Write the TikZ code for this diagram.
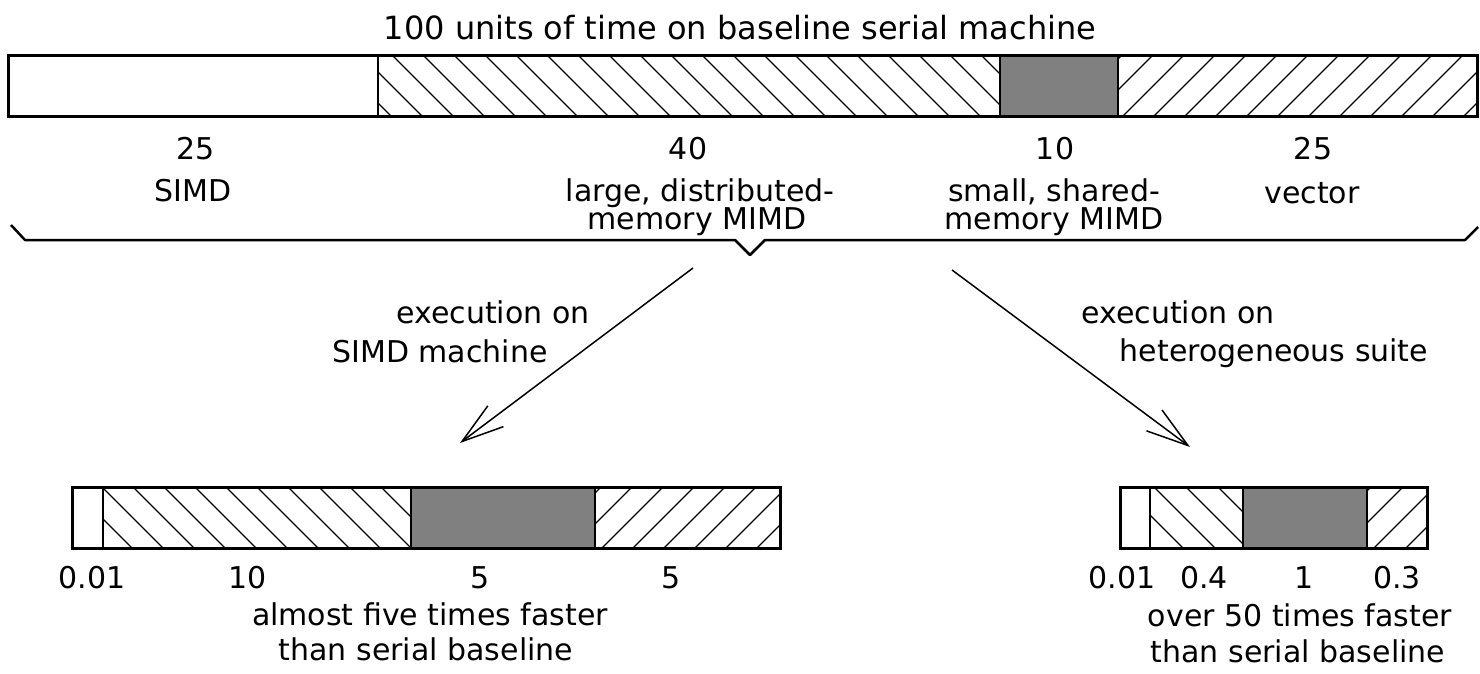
\documentclass[tikz,border=0pt]{standalone}
\usepackage{fontspec}
\setmainfont{DejaVu Sans}
\usetikzlibrary{arrows.meta}
\definecolor{blockgray}{HTML}{808080}
\begin{document}
\begin{tikzpicture}[x=1pt,y=-1pt,
  txt/.style={font=\fontsize{30}{30}\selectfont, inner sep=0pt, anchor=base},
  titletxt/.style={font=\fontsize{32}{32}\selectfont, inner sep=0pt, anchor=base},
  outline/.style={draw=black, line width=3pt},
  divider/.style={draw=black, line width=2pt},
  hatchline/.style={draw=black, line width=1.2pt},
  grayblock/.style={fill=blockgray},
  bracestyle/.style={draw=black, line width=2.5pt, line join=round},
  flow/.style={draw=black, line width=1.5pt, -{Straight Barb[length=42pt, width=26pt, line width=1.5pt]}}
]
\useasboundingbox (0,0) rectangle (1480,674);

% ---------- title ----------
\node[titletxt] (title) at (740,40) {100 units of time on baseline serial machine};

% ---------- top bar ----------
\fill[grayblock] (1000,56) rectangle (1118,117);
\begin{scope}
  \clip (378,56) rectangle (1000,117);
  \foreach \x in {300,331,...,1010} \draw[hatchline] (\x,56) -- ++(61,61);
\end{scope}
\begin{scope}
  \clip (1118,56) rectangle (1477,117);
  \foreach \x in {1060,1091,...,1480} \draw[hatchline] (\x,117) -- ++(61,-61);
\end{scope}
\draw[divider] (378,56) -- (378,117);
\draw[divider] (1000,56) -- (1000,117);
\draw[divider] (1118,56) -- (1118,117);
\draw[outline] (8,56) rectangle (1477,117);

% ---------- top labels ----------
\node[txt] (n25a) at (196,160) {25};
\node[txt] (simd) at (193,201) {SIMD};
\node[txt] (n40) at (688,160) {40};
\node[txt] (large) at (700,201) {large, distributed-};
\node[txt] (memA) at (697,229) {memory MIMD};
\node[txt] (n10) at (1055,160) {10};
\node[txt] (small) at (1054,201) {small, shared-};
\node[txt] (memB) at (1054,229) {memory MIMD};
\node[txt] (n25b) at (1313,160) {25};
\node[txt] (vector) at (1312,203) {vector};

% ---------- brace ----------
\coordinate (bl) at (11,225);
\coordinate (br) at (1478,227);
\coordinate (btip) at (750,255);
\draw[bracestyle] (bl) -- (25,240) -- (735,240) -- (btip) -- (765,240) -- (1465,240) -- (br);

% ---------- arrows ----------
\coordinate (ls) at (693,268);
\coordinate (le) at (460,443);
\coordinate (rs) at (952,270);
\coordinate (re) at (1190,447);
\draw[flow] (ls) -- (le);
\draw[flow] (rs) -- (re);

\node[txt] (exl1) at (493,323) {execution on};
\node[txt] (exl2) at (440,362) {SIMD machine};
\node[txt] (exr1) at (1178,323) {execution on};
\node[txt] (exr2) at (1274,361) {heterogeneous suite};

% ---------- bottom-left bar ----------
\fill[grayblock] (411,487) rectangle (595,548);
\begin{scope}
  \clip (103,487) rectangle (411,548);
  \foreach \x in {40,71,...,420} \draw[hatchline] (\x,487) -- ++(61,61);
\end{scope}
\begin{scope}
  \clip (595,487) rectangle (780,548);
  \foreach \x in {540,571,...,790} \draw[hatchline] (\x,548) -- ++(61,-61);
\end{scope}
\draw[divider] (103,487) -- (103,548);
\draw[divider] (411,487) -- (411,548);
\draw[divider] (595,487) -- (595,548);
\draw[outline] (72,487) rectangle (780,548);

\node[txt] (bl1) at (92,588) {0.01};
\node[txt] (bl2) at (248,588) {10};
\node[txt] (bl3) at (480,588) {5};
\node[txt] (bl4) at (671,588) {5};
\node[txt] (blc1) at (430,625) {almost five times faster};
\node[txt] (blc2) at (426,660) {than serial baseline};

% ---------- bottom-right bar ----------
\fill[grayblock] (1243,487) rectangle (1367,548);
\begin{scope}
  \clip (1150,487) rectangle (1243,548);
  \foreach \x in {1090,1122,...,1250} \draw[hatchline] (\x,487) -- ++(61,61);
\end{scope}
\begin{scope}
  \clip (1367,487) rectangle (1427,548);
  \foreach \x in {1310,1342,...,1430} \draw[hatchline] (\x,548) -- ++(61,-61);
\end{scope}
\draw[divider] (1150,487) -- (1150,548);
\draw[divider] (1243,487) -- (1243,548);
\draw[divider] (1367,487) -- (1367,548);
\draw[outline] (1120,487) rectangle (1427,548);

\node[txt] (br1) at (1122,588) {0.01};
\node[txt] (br2) at (1204,588) {0.4};
\node[txt] (br3) at (1304,588) {1};
\node[txt] (br4) at (1397,588) {0.3};
\node[txt] (brc1) at (1300,626) {over 50 times faster};
\node[txt] (brc2) at (1298,662) {than serial baseline};
\end{tikzpicture}
\end{document}
